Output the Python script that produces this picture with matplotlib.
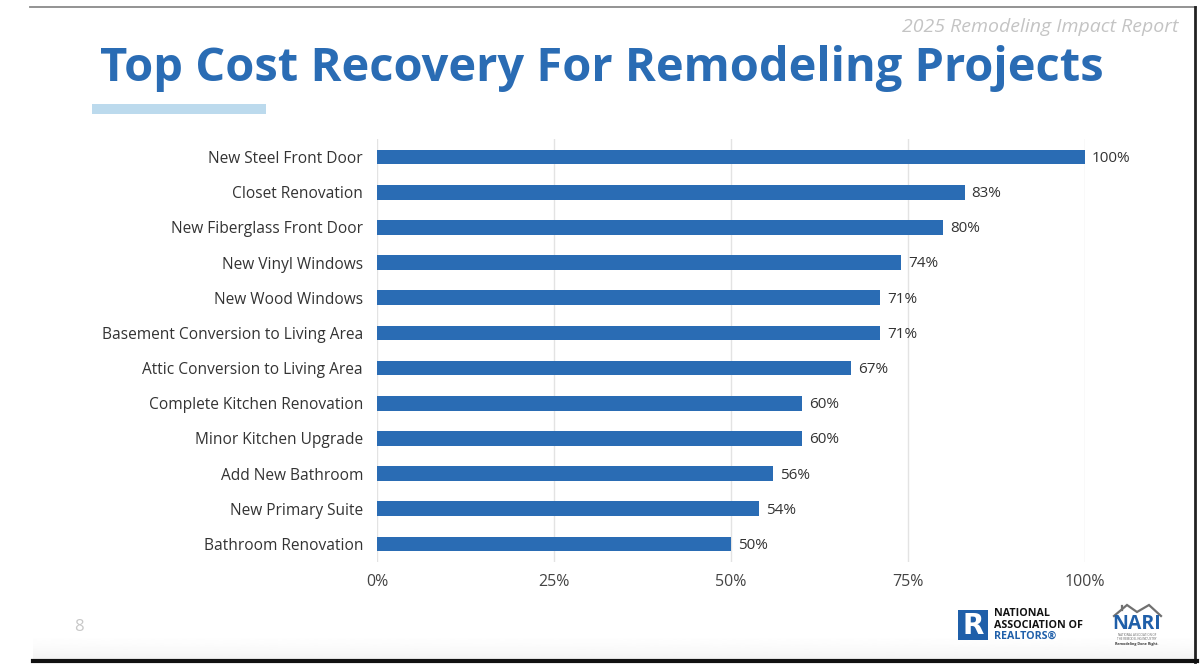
import matplotlib.pyplot as plt
import matplotlib.patches as patches
import numpy as np

projects = ["New Steel Front Door", "Closet Renovation", "New Fiberglass Front Door",
            "New Vinyl Windows", "New Wood Windows", "Basement Conversion to Living Area",
            "Attic Conversion to Living Area", "Complete Kitchen Renovation",
            "Minor Kitchen Upgrade", "Add New Bathroom", "New Primary Suite",
            "Bathroom Renovation"]
recovery = [100, 83, 80, 74, 71, 71, 67, 60, 60, 56, 54, 50]
xticks = [0, 25, 50, 75, 100]

BLUE = '#2a6cb4'
FONT = 'Open Sans'

fig = plt.figure(figsize=(12, 6.67), dpi=100, facecolor='white')

# pixel-coordinate overlay for the slide decorations
deco = fig.add_axes([0, 0, 1, 1], zorder=0)
deco.set_xlim(0, 1200); deco.set_ylim(667, 0); deco.axis('off')

# faint shadow at slide bottom
grad = np.linspace(0, 1, 40)[:, None] ** 2
deco.imshow(1 - 0.05 * grad, extent=(33, 1195, 660, 630), cmap='gray', vmin=0, vmax=1,
            aspect='auto', zorder=0)

deco.plot([30, 1196], [7, 7], color='#8a8a8a', lw=1.3)
deco.plot([1195, 1195], [7, 662], color='#222222', lw=2)
deco.plot([33, 1197], [661, 661], color='#111111', lw=3)

deco.text(1178, 27, "2025 Remodeling Impact Report", ha='right', va='center',
          fontsize=14, style='italic', color='#c4c4c4', family=FONT)
deco.text(100, 69, "Top Cost Recovery For Remodeling Projects", ha='left', va='center',
          fontsize=33.8, fontweight='bold', color=BLUE, family=FONT)
deco.add_patch(patches.Rectangle((92, 104), 174, 10, fc='#bcdaed', ec='none'))
deco.text(79, 627, "8", ha='center', va='center', fontsize=12, color='#c8c8c8', family=FONT)

# NAR logo
deco.add_patch(patches.Rectangle((958, 610), 30, 30, fc='#1f5fa9', ec='none'))
deco.text(973.5, 625.5, "R", ha='center', va='center', fontsize=20, fontweight='bold',
          color='white', family='DejaVu Sans')
deco.text(994, 614, "NATIONAL", ha='left', va='center', fontsize=7.7, fontweight='bold',
          color='#111111', family=FONT)
deco.text(994, 625, "ASSOCIATION OF", ha='left', va='center', fontsize=7.7, fontweight='bold',
          color='#111111', family=FONT)
deco.text(994, 636, "REALTORS\u00ae", ha='left', va='center', fontsize=7.7, fontweight='bold',
          color='#1f5fa9', family=FONT)

# NARI logo
deco.plot([1114, 1127, 1137, 1149, 1161], [616, 605, 612, 605, 616], color='#707070', lw=1.6,
          solid_joinstyle='miter')
deco.plot([1122, 1122], [606, 610], color='#707070', lw=1.6)
deco.text(1137, 624, "NARI", ha='center', va='center', fontsize=14, fontweight='bold',
          color='#1f5fa9', family=FONT)
deco.text(1137, 637, "NATIONAL ASSOCIATION OF\nTHE REMODELING INDUSTRY", ha='center',
          va='center', fontsize=2.2, color='#666666', family=FONT, linespacing=1.1)
deco.text(1137, 644, "Remodeling Done Right.", ha='center', va='center', fontsize=2.6,
          fontweight='bold', color='#333333', family=FONT)

# the chart
ax = fig.add_axes([377 / 1200, 1 - 561.6 / 667, 708 / 1200, (561.6 - 139.4) / 667], zorder=1)
ax.set_facecolor('none')
y = np.arange(len(projects))
ax.barh(y, recovery, height=0.42, color=BLUE, zorder=2)
ax.set_xlim(0, 100)
ax.set_ylim(len(projects) - 0.5, -0.5)
ax.set_yticks(y)
ax.set_yticklabels(projects, family=FONT, fontsize=11.2, color='#333333')
ax.set_xticks(xticks)
ax.set_xticklabels([f"{t}%" for t in xticks], family=FONT, fontsize=11.5, color='#444444')
ax.tick_params(axis='both', length=0)
ax.tick_params(axis='y', pad=10)
ax.tick_params(axis='x', pad=9)
ax.grid(axis='x', color='#e3e3e3', lw=1, zorder=0)
for s in ax.spines.values():
    s.set_visible(False)
for yi, v in zip(y, recovery):
    ax.text(v + 1.0, yi + 0.04, f"{v}%", va='center', ha='left', fontsize=11,
            color='#333333', family=FONT)

fig.savefig('out.png', dpi=100, facecolor='white')
